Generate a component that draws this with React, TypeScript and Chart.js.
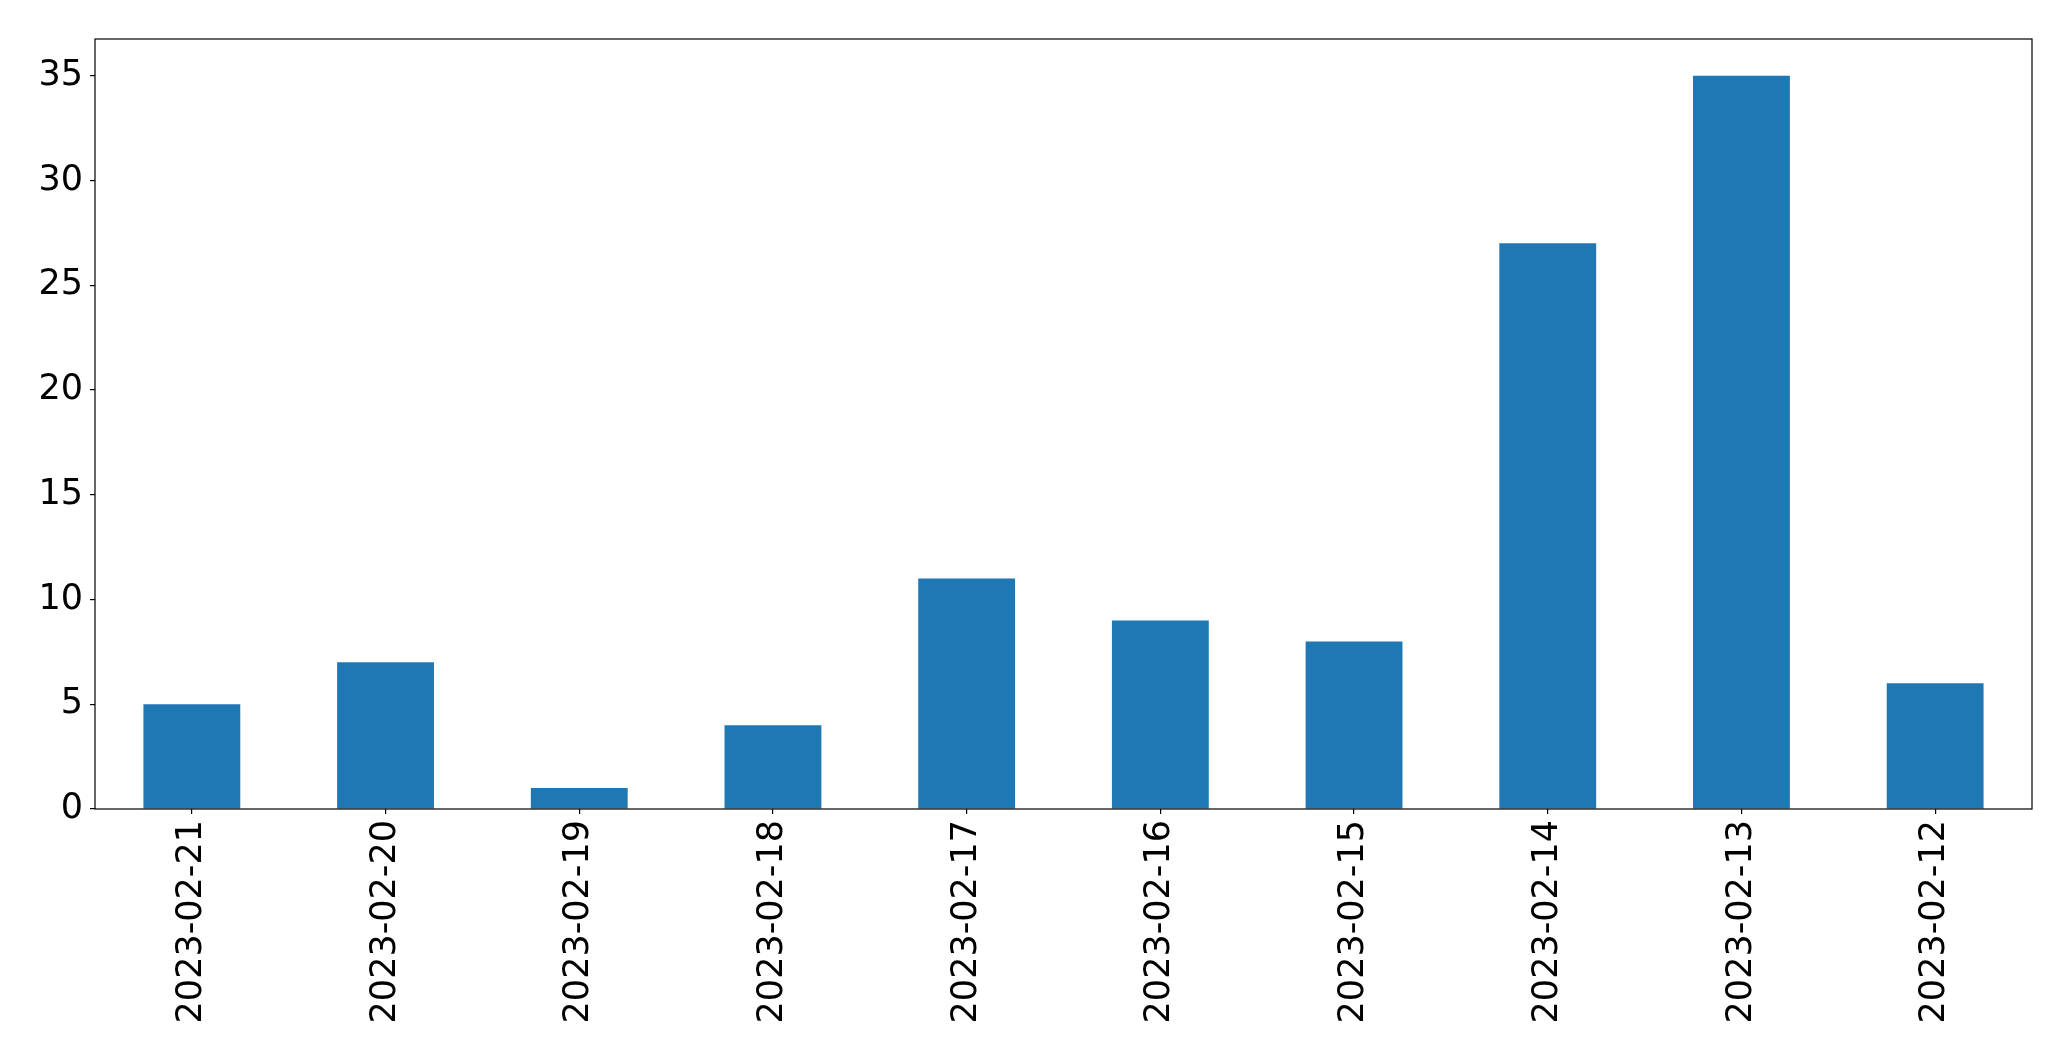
import React, { useEffect, useRef } from "react";
import { Chart, registerables } from "chart.js";

Chart.register(...registerables);

const categories: string[] = [
  "2023-02-21", "2023-02-20", "2023-02-19", "2023-02-18", "2023-02-17",
  "2023-02-16", "2023-02-15", "2023-02-14", "2023-02-13", "2023-02-12",
];
const counts: number[] = [5, 7, 1, 4, 11, 9, 8, 27, 35, 6];
const yTickValues: number[] = [0, 5, 10, 15, 20, 25, 30, 35];

const W = 2071;
const H = 1061;
const FONT = "'DejaVu Sans', sans-serif";

const framePlugin = {
  id: "frame",
  afterDraw(chart: any) {
    const { ctx, chartArea } = chart;
    ctx.save();
    ctx.strokeStyle = "#000";
    ctx.lineWidth = 1.2;
    ctx.strokeRect(chartArea.left, chartArea.top, chartArea.right - chartArea.left, chartArea.bottom - chartArea.top);
    ctx.restore();
  },
};

export default function App() {
  const ref = useRef<HTMLCanvasElement | null>(null);

  useEffect(() => {
    if (!ref.current) return;
    const maxVal = Math.max(...counts);
    const chart = new Chart(ref.current, {
      type: "bar",
      data: {
        labels: categories,
        datasets: [
          {
            data: counts,
            backgroundColor: "#1f77b4",
            borderWidth: 0,
            barPercentage: 0.5,
            categoryPercentage: 1,
          },
        ],
      },
      options: {
        animation: false,
        responsive: false,
        devicePixelRatio: 1,
        layout: { padding: { left: 0, top: 39, right: 39, bottom: 0 } },
        plugins: { legend: { display: false }, tooltip: { enabled: false } },
        scales: {
          x: {
            offset: true,
            grid: { display: true, drawOnChartArea: false, drawTicks: true, tickLength: 5, color: "#000", offset: false, lineWidth: 1.2 },
            border: { display: false },
            ticks: {
              color: "#000",
              font: { size: 35, family: FONT },
              minRotation: 90,
              maxRotation: 90,
              autoSkip: false,
              padding: 6,
            },
            afterFit(scale: any) {
              scale.height = H - 809;
            },
          },
          y: {
            min: 0,
            max: maxVal * 1.05,
            grid: { display: true, drawOnChartArea: false, drawTicks: true, tickLength: 5, color: "#000", lineWidth: 1.2 },
            border: { display: false },
            ticks: {
              color: "#000",
              font: { size: 35, family: FONT },
              stepSize: 5,
              includeBounds: false,
              padding: 7,
            },
            afterBuildTicks(scale: any) {
              scale.ticks = yTickValues.map((v) => ({ value: v }));
            },
            afterFit(scale: any) {
              scale.width = 95;
            },
          },
        },
      },
      plugins: [framePlugin],
    });
    return () => chart.destroy();
  }, []);

  return (
    <div style={{ position: "fixed", left: 0, top: 0, width: W, height: H, background: "#fff" }}>
      <canvas ref={ref} width={W} height={H} style={{ width: W, height: H, display: "block" }} />
    </div>
  );
}
